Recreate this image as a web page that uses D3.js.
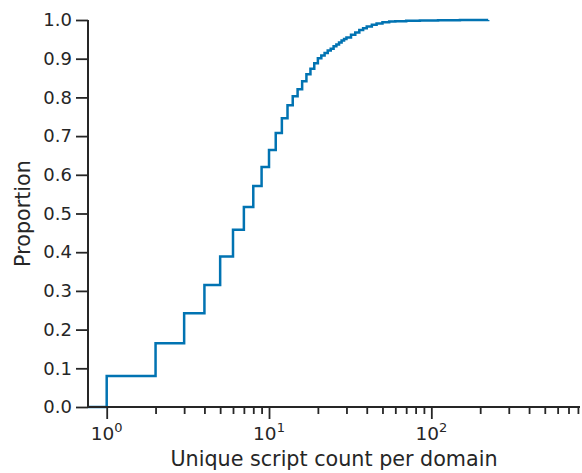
<!DOCTYPE html>
<html>
<head>
<meta charset="utf-8">
<script src="https://cdn.jsdelivr.net/npm/d3@7"></script>
<style>
  body { margin: 0; background: #fff; }
  text { font-family: "DejaVu Sans", sans-serif; fill: #262626; }
</style>
</head>
<body>
<div id="chart"></div>
<script>
// distinct script counts and the cumulative proportion at each
var counts = [1, 2, 3, 4, 5, 6, 7, 8, 9, 10, 11, 12, 13, 14, 15, 16, 17, 18, 19, 20,
              21, 22, 23, 24, 25, 26, 27, 28, 29, 30, 32, 34, 36, 38, 40, 43, 46, 50,
              55, 60, 70, 85, 110, 150, 224];
var proportions = [0.080, 0.165, 0.242, 0.315, 0.389, 0.458, 0.517, 0.571, 0.620, 0.664,
                   0.708, 0.746, 0.780, 0.803, 0.821, 0.842, 0.860, 0.874, 0.888, 0.901,
                   0.908, 0.915, 0.921, 0.926, 0.932, 0.937, 0.942, 0.947, 0.951, 0.955,
                   0.962, 0.968, 0.974, 0.979, 0.983, 0.988, 0.991, 0.994, 0.996, 0.997,
                   0.998, 0.999, 0.9995, 0.9998, 1.0];
var yTicks = [0, 0.1, 0.2, 0.3, 0.4, 0.5, 0.6, 0.7, 0.8, 0.9, 1.0];
var xMajor = [1, 10, 100];
var xMinor = [2, 3, 4, 5, 6, 7, 8, 9, 20, 30, 40, 50, 60, 70, 80, 90, 200, 300, 400, 500, 600, 700, 800];
var xDomain = [0.767, 824];

var width = 582,
    height = 473,
    margin = {top: 20, right: 2, bottom: 66, left: 88};
var innerW = width - margin.left - margin.right,
    innerH = height - margin.top - margin.bottom;

var svg = d3.select("#chart")
   .append("svg")
   .attr("width", width)
   .attr("height", height);

var g = svg.append("g")
   .attr("transform", `translate(${margin.left},${margin.top})`);

var x = d3.scaleLog().domain(xDomain).range([0, innerW]);
var y = d3.scaleLinear().domain([0, 1]).range([innerH, 0]);

var data = counts.map((c, i) => ({x: c, y: proportions[i]}));
data.unshift({x: xDomain[0], y: 0});

// the ecdf step line
var line = d3.line()
   .x(d => x(d.x))
   .y(d => y(d.y))
   .curve(d3.curveStepAfter);

g.append("path")
   .datum(data)
   .attr("fill", "none")
   .attr("stroke", "#0173b2")
   .attr("stroke-width", 2.5)
   .attr("d", line);

// y axis
var yAxis = d3.axisLeft(y).tickValues(yTicks).tickFormat(d3.format(".1f")).tickSize(12).tickPadding(4);
var gy = g.append("g").call(yAxis);

// x axis: major ticks with 10^n labels, then minor ticks
var xAxis = d3.axisBottom(x).tickValues(xMajor).tickFormat("").tickSize(12);
var gx = g.append("g").attr("transform", `translate(0,${innerH})`).call(xAxis);
var gxm = g.append("g").attr("transform", `translate(0,${innerH})`)
   .call(d3.axisBottom(x).tickValues(xMinor).tickFormat("").tickSize(7).tickSizeOuter(0));
gxm.select(".domain").remove();

[gx, gy, gxm].forEach(a => {
  a.selectAll(".domain").attr("stroke", "#262626").attr("stroke-width", 2);
  a.selectAll(".tick line").attr("stroke", "#262626").attr("stroke-width", 1.8);
});
gx.select(".domain").attr("d", `M0,0H${innerW}`);
gy.select(".domain").attr("d", `M0,${innerH}V0`);
gy.selectAll(".tick text").style("font-size", "18px").attr("fill", "#262626");

// 10^n labels
xMajor.forEach((v, i) => {
  var t = g.append("text")
     .attr("x", x(v))
     .attr("y", innerH + 33)
     .attr("text-anchor", "middle")
     .style("font-size", "18.5px");
  t.append("tspan").text("10");
  t.append("tspan").attr("dy", -8).style("font-size", "13px").text(i);
});

// axis labels
svg.append("text")
   .attr("x", margin.left + innerW / 2)
   .attr("y", height - 7)
   .attr("text-anchor", "middle")
   .style("font-size", "20.7px")
   .text("Unique script count per domain");

svg.append("text")
   .attr("transform", `translate(30,${margin.top + innerH / 2}) rotate(-90)`)
   .attr("text-anchor", "middle")
   .style("font-size", "20.7px")
   .text("Proportion");
</script>
</body>
</html>
